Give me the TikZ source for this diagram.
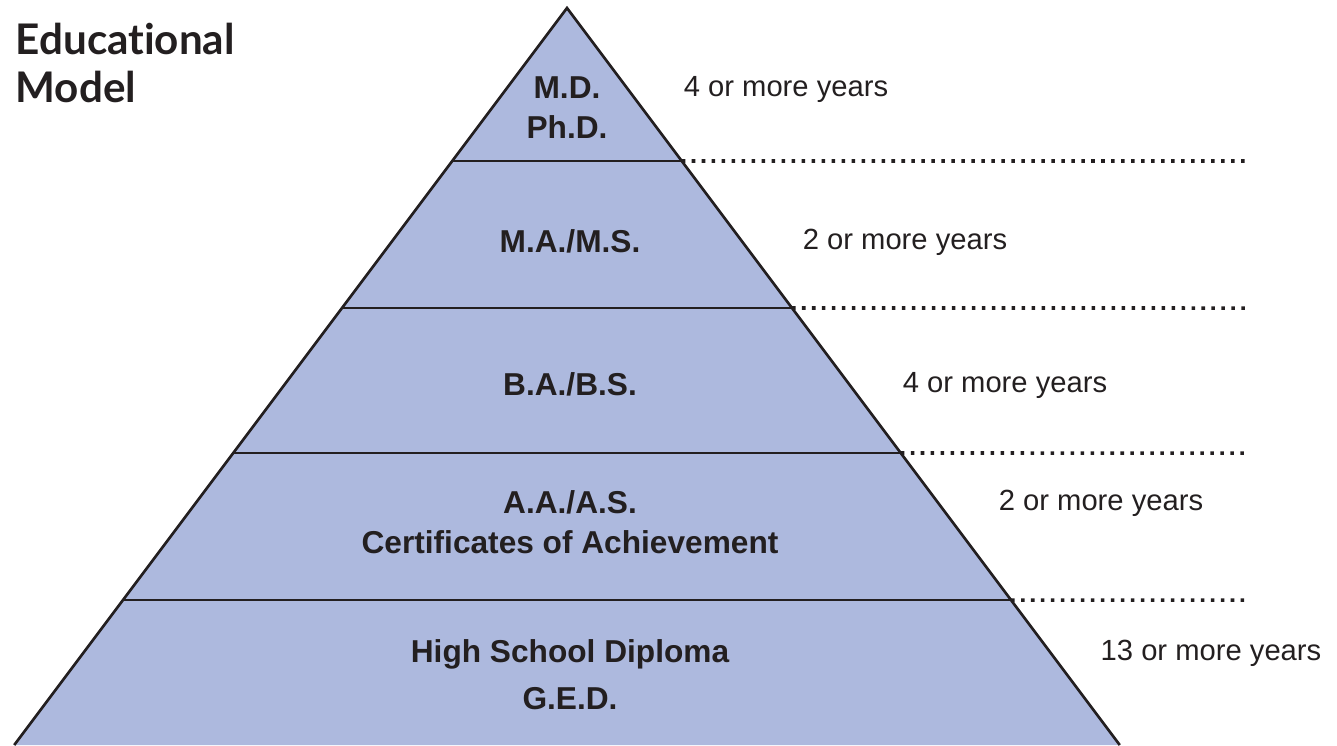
\documentclass[tikz,border=0pt]{standalone}
\usepackage{fontspec}
\setmainfont{Liberation Sans}
\newfontfamily\titlefont[Ligatures={NoCommon,NoContextual}]{Lato}
\usepackage{xcolor}
\definecolor{tierblue}{HTML}{ADB9DE}
\definecolor{inkblack}{HTML}{231F20}
\usetikzlibrary{calc}

\begin{document}
\begin{tikzpicture}[x=0.01cm, y=-0.01cm,
    tier/.style={font=\bfseries\fontsize{9}{11.4}\selectfont, text=inkblack, align=center},
    years/.style={font=\fontsize{8.3}{10}\selectfont, text=inkblack},
    level/.style={draw=inkblack, line width=0.75pt},
    guide/.style={draw=inkblack, line width=1pt, dash pattern=on 1pt off 1.84pt}]
      \useasboundingbox (0,0) rectangle (1337,745);
      \coordinate (apex) at (567,8);
      \coordinate (baseL) at (14.25,745);
      \coordinate (baseR) at (1119.75,745);
      \fill[tierblue] (apex) -- (baseL) -- (baseR) -- cycle;
      \foreach \y/\n in {161/a, 308/b, 453/c, 600/d} {
        \coordinate (l\n) at ($(apex)!{(\y-8)/737}!(baseL)$);
        \coordinate (r\n) at ($(apex)!{(\y-8)/737}!(baseR)$);
        \coordinate (e\n) at (1248,\y);
        \draw[level] (l\n) -- (r\n);
        \draw[guide] (r\n) -- (e\n);
      }
      \draw[level, line join=miter] (baseL) -- (apex) -- (baseR);

      \node[font=\titlefont\bfseries\fontsize{12}{13.7}\selectfont, text=inkblack, align=left, anchor=north west, inner sep=0pt] (title) at (15,22) {Educational\\Model};

      \node[tier] (doctor) at (567,108) {M.D.\\Ph.D.};
      \node[tier] (master) at (570,241) {M.A./M.S.};
      \node[tier] (bachelor) at (570,384) {B.A./B.S.};
      \node[tier] (associate) at (570,522) {A.A./A.S.\\Certificates of Achievement};
      \node[tier] (school) at (570,675) {High School Diploma\\[2pt]G.E.D.};

      \node[years] (yrdoctor) at (786,89) {4 or more years};
      \node[years] (yrmaster) at (905,242) {2 or more years};
      \node[years] (yrbachelor) at (1005,385) {4 or more years};
      \node[years] (yrassociate) at (1101,503) {2 or more years};
      \node[years] (yrschool) at (1211,653) {13 or more years};
\end{tikzpicture}
\end{document}
